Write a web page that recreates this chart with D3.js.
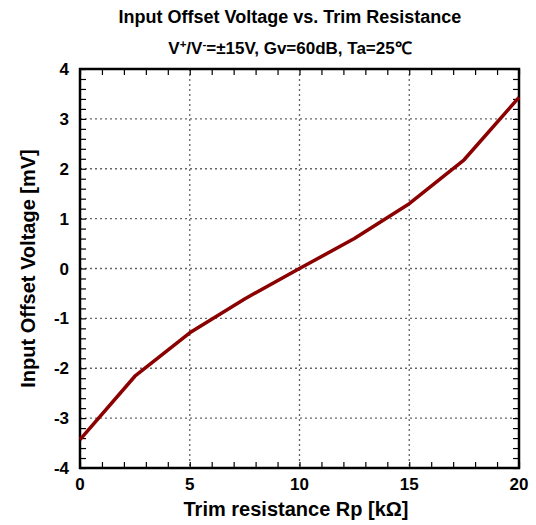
<!DOCTYPE html>
<html>
<head>
<meta charset="utf-8">
<script src="https://cdn.jsdelivr.net/npm/d3@7"></script>
<style>
body { margin: 0; background: #fff; }
text { font-family: "Liberation Sans", Arial, sans-serif; font-weight: bold; }
</style>
</head>
<body>
<div id="chart"></div>
<script>
var resistance = [0, 2.5, 5, 7.5, 10, 12.5, 15, 17.5, 20];
var offsetV = [-3.43, -2.16, -1.29, -0.61, 0, 0.6, 1.3, 2.18, 3.43];
var xTicks = [0, 5, 10, 15, 20];
var yTicks = [-4, -3, -2, -1, 0, 1, 2, 3, 4];

var width = 536, height = 525;
var pLeft = 80, pRight = 519, pTop = 69, pBottom = 468;

var x = d3.scaleLinear().domain([0, 20]).range([pLeft, pRight]);
var y = d3.scaleLinear().domain([-4, 4]).range([pBottom, pTop]);

var svg = d3.select("#chart").append("svg")
    .attr("width", width).attr("height", height);

// dotted grid
svg.append("g").selectAll("line").data(xTicks.slice(1, -1)).enter().append("line")
    .attr("x1", d => x(d)).attr("x2", d => x(d))
    .attr("y1", pTop).attr("y2", pBottom)
    .attr("stroke", "#666").attr("stroke-width", 1.3).attr("stroke-dasharray", "2,3");
svg.append("g").selectAll("line").data(yTicks.slice(1, -1)).enter().append("line")
    .attr("y1", d => y(d)).attr("y2", d => y(d))
    .attr("x1", pLeft).attr("x2", pRight)
    .attr("stroke", "#666").attr("stroke-width", 1.3).attr("stroke-dasharray", "2,3");

// inward ticks on all four sides
var xMinor = d3.range(0, 21, 1), yMinor = d3.range(-4, 4.01, 0.2);
var tk = 6;
svg.append("g").call(d3.axisBottom(x).tickValues(xMinor).tickSize(tk).tickFormat(""))
    .attr("transform", "translate(0," + pBottom + ") scale(1,-1)");
svg.append("g").call(d3.axisBottom(x).tickValues(xMinor).tickSize(tk).tickFormat(""))
    .attr("transform", "translate(0," + pTop + ")");
svg.append("g").call(d3.axisLeft(y).tickValues(yMinor).tickSize(tk).tickFormat(""))
    .attr("transform", "translate(" + pLeft + ",0) scale(-1,1)");
svg.append("g").call(d3.axisLeft(y).tickValues(yMinor).tickSize(tk).tickFormat(""))
    .attr("transform", "translate(" + pRight + ",0)");
svg.selectAll(".domain").remove();
svg.selectAll(".tick line").attr("stroke", "#000").attr("stroke-width", 1.2);

// frame
svg.append("rect").attr("x", pLeft).attr("y", pTop)
    .attr("width", pRight - pLeft).attr("height", pBottom - pTop)
    .attr("fill", "none").attr("stroke", "#000").attr("stroke-width", 2.5);

// tick labels
svg.append("g").selectAll("text").data(xTicks).enter().append("text")
    .attr("x", d => x(d)).attr("y", pBottom + 22)
    .attr("text-anchor", "middle").style("font-size", "17px")
    .text(d => d);
svg.append("g").selectAll("text").data(yTicks).enter().append("text")
    .attr("x", pLeft - 11).attr("y", d => y(d) + 6)
    .attr("text-anchor", "end").style("font-size", "17px")
    .text(d => d);

// curve
svg.append("path").datum(resistance.map((r, i) => [r, offsetV[i]]))
    .attr("d", d3.line().x(d => x(d[0])).y(d => y(d[1])))
    .attr("fill", "none").attr("stroke", "#8b0000").attr("stroke-width", 3.5)
    .attr("stroke-linejoin", "round");

// titles
svg.append("text").attr("x", 290).attr("y", 23)
    .attr("text-anchor", "middle").style("font-size", "18px")
    .text("Input Offset Voltage vs. Trim Resistance");
var sub = svg.append("text").attr("x", 290).attr("y", 54)
    .attr("text-anchor", "middle").style("font-size", "17px");
sub.append("tspan").text("V");
sub.append("tspan").attr("dy", -6).style("font-size", "11.5px").text("+");
sub.append("tspan").attr("dy", 6).text("/V");
sub.append("tspan").attr("dy", -6).style("font-size", "11.5px").text("-");
sub.append("tspan").attr("dy", 6).text("=±15V, Gv=60dB, Ta=25℃");

svg.append("text").attr("x", 296).attr("y", 516)
    .attr("text-anchor", "middle").style("font-size", "20px")
    .text("Trim resistance Rp [kΩ]");
svg.append("text").attr("transform", "translate(35," + ((pTop + pBottom) / 2) + ") rotate(-90)")
    .attr("text-anchor", "middle").style("font-size", "20px")
    .text("Input Offset Voltage [mV]");
</script>
</body>
</html>
